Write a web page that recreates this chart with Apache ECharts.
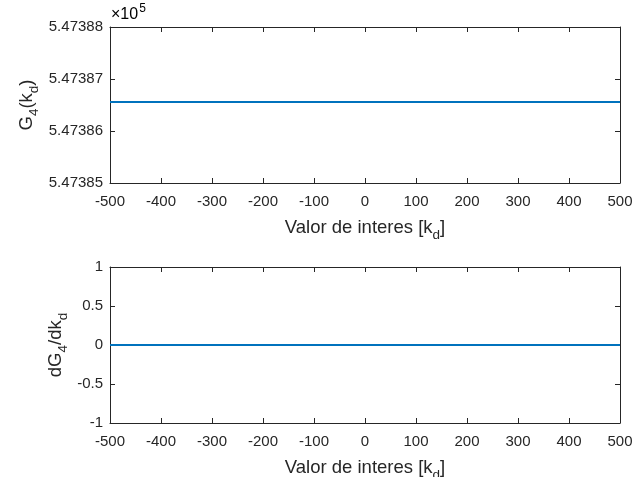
<!DOCTYPE html>
<html>
<head>
<meta charset="utf-8">
<script src="https://cdn.jsdelivr.net/npm/echarts@6/dist/echarts.min.js"></script>
<style>
  html, body { margin: 0; padding: 0; background: #ffffff; }
  #chart { width: 641px; height: 477px; }
</style>
</head>
<body>
<div id="chart"></div>
<script>
// Sample points along the parameter k_d
const kdValues = [-500, -400, -300, -200, -100, 0, 100, 200, 300, 400, 500];
// G4(k_d) evaluated at each sample (constant)
const g4Values = [547386.56, 547386.56, 547386.56, 547386.56, 547386.56, 547386.56,
                  547386.56, 547386.56, 547386.56, 547386.56, 547386.56];
// dG4/dk_d at each sample
const dg4Values = [0, 0, 0, 0, 0, 0, 0, 0, 0, 0, 0];

// Axis ranges / ticks
const xTicks = [-500, -400, -300, -200, -100, 0, 100, 200, 300, 400, 500];
const g4Ticks = [547385, 547386, 547387, 547388];
const dg4Ticks = [-1, -0.5, 0, 0.5, 1];
const g4Exponent = 5;

const FONT = '"Liberation Sans", Arial, Helvetica, sans-serif';
const INK = '#262626';
const LINE_BLUE = '#0072BD';
const TICK_FS = 15;
const LABEL_FS = 18.5;

const chart = echarts.init(document.getElementById('chart'), null, { renderer: 'canvas' });

const subRich = {
  n: { fontSize: LABEL_FS, color: INK, fontFamily: FONT },
  s: { fontSize: 13.5, color: INK, fontFamily: FONT, padding: [14, 0, 0, 0] }
};

function toPairs(xs, ys) { return xs.map((x, i) => [x, ys[i]]); }

function baseX(gridIndex, showLabels) {
  return {
    type: 'value', gridIndex: gridIndex,
    min: xTicks[0], max: xTicks[xTicks.length - 1], interval: 100,
    axisLine: { show: true, onZero: false, lineStyle: { color: INK, width: 1 } },
    axisTick: { show: true, inside: true, length: 5, lineStyle: { color: INK } },
    axisLabel: { show: showLabels, color: INK, fontSize: TICK_FS, fontFamily: FONT, margin: 11 },
    splitLine: { show: false }
  };
}

function baseY(gridIndex, min, max, interval, showLabels, formatter) {
  return {
    type: 'value', gridIndex: gridIndex,
    min: min, max: max, interval: interval,
    axisLine: { show: true, onZero: false, lineStyle: { color: INK, width: 1 } },
    axisTick: { show: true, inside: true, length: 5, lineStyle: { color: INK } },
    axisLabel: { show: showLabels, color: INK, fontSize: TICK_FS, fontFamily: FONT, margin: 7, formatter: formatter },
    splitLine: { show: false }
  };
}

const scale = Math.pow(10, g4Exponent);

const xAxes = [];
const yAxes = [];
[0, 1].forEach(function (g) {
  const bx = baseX(g, true);
  bx.position = 'bottom';
  bx.name = '{n|Valor de interes [k}{s|d}{n|]}';
  bx.nameLocation = 'middle';
  bx.nameGap = 31;
  bx.nameMoveOverlap = false;
  bx.nameTextStyle = { rich: subRich };
  xAxes.push(bx);
  const tx = baseX(g, false);
  tx.position = 'top';
  xAxes.push(tx);
});

// Top panel y axes
const y0 = baseY(0, g4Ticks[0], g4Ticks[g4Ticks.length - 1], 1, true,
  function (v) { return (v / scale).toFixed(5); });
y0.position = 'left';
y0.name = '{n|G}{s|4}{n|(k}{s|d}{n|)}';
y0.nameLocation = 'middle';
y0.nameRotate = 90;
y0.nameGap = 69;
y0.nameMoveOverlap = false;
y0.nameTextStyle = { rich: subRich };
yAxes.push(y0);
const y0r = baseY(0, g4Ticks[0], g4Ticks[g4Ticks.length - 1], 1, false);
y0r.position = 'right';
yAxes.push(y0r);

// Bottom panel y axes
const y1 = baseY(1, dg4Ticks[0], dg4Ticks[dg4Ticks.length - 1], 0.5, true,
  function (v) { return String(v); });
y1.position = 'left';
y1.name = '{n|dG}{s|4}{n|/dk}{s|d}';
y1.nameLocation = 'middle';
y1.nameRotate = 90;
y1.nameGap = 40;
y1.nameMoveOverlap = false;
y1.nameTextStyle = { rich: subRich };
yAxes.push(y1);
const y1r = baseY(1, dg4Ticks[0], dg4Ticks[dg4Ticks.length - 1], 0.5, false);
y1r.position = 'right';
yAxes.push(y1r);

chart.setOption({
  backgroundColor: '#ffffff',
  animation: false,
  grid: [
    { left: 110, right: 21, top: 27, height: 156, outerBoundsMode: 'none', containLabel: false },
    { left: 110, right: 21, top: 267, height: 156, outerBoundsMode: 'none', containLabel: false }
  ],
  xAxis: xAxes,
  yAxis: yAxes,
  graphic: [
    {
      type: 'text', left: 111, top: 3,
      style: {
        text: '{x|\u00d7}{t|10}{e|' + g4Exponent + '}',
        rich: {
          x: { fontSize: 16, color: '#6e6e6e', fontFamily: FONT },
          t: { fontSize: 16, color: INK, fontFamily: FONT },
          e: { fontSize: 12, color: INK, fontFamily: FONT, padding: [0, 0, 11, 1] }
        }
      }
    }
  ],
  series: [
    {
      type: 'line', xAxisIndex: 0, yAxisIndex: 0,
      data: toPairs(kdValues, g4Values),
      showSymbol: false, symbol: 'none',
      lineStyle: { color: LINE_BLUE, width: 2 }
    },
    {
      type: 'line', xAxisIndex: 2, yAxisIndex: 2,
      data: toPairs(kdValues, dg4Values),
      showSymbol: false, symbol: 'none',
      lineStyle: { color: LINE_BLUE, width: 2 }
    }
  ]
});
</script>
</body>
</html>
